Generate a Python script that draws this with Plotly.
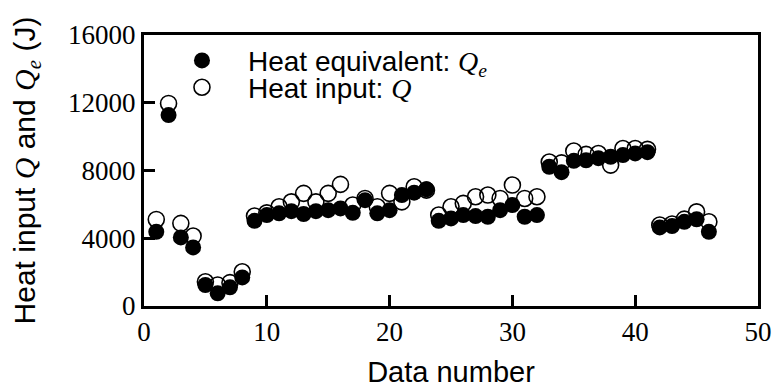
import plotly.graph_objects as go

# Data number (1..46)
data_number = list(range(1, 47))

# Heat equivalent Q_e (J)
heat_equivalent = [
    4380, 11270, 4050, 3460, 1240, 750, 1100, 1690, 5030, 5370,
    5470, 5600, 5430, 5600, 5660, 5760, 5500, 6250, 5470, 5660,
    6550, 6690, 6890, 5030, 5170, 5370, 5310, 5270, 5660, 5960,
    5270, 5370, 8220, 7900, 8570, 8600, 8730, 8810, 8910, 9010,
    9080, 4640, 4720, 4970, 5120, 4380,
]

# Heat input Q (J)
heat_input = [
    5110, 11960, 4880, 4130, 1430, 1240, 1380, 2020, 5310, 5500,
    5860, 6150, 6650, 6150, 6650, 7180, 5960, 6350, 5860, 6650,
    6150, 7040, 6840, 5370, 5860, 6060, 6450, 6550, 6350, 7140,
    6350, 6450, 8500, 8450, 9150, 8950, 9000, 8320, 9300, 9300,
    9250, 4780, 4840, 5130, 5560, 4970,
]

x_ticks = [0, 10, 20, 30, 40, 50]
y_ticks = [0, 4000, 8000, 12000, 16000]

SERIF = "Liberation Serif"
SANS = "Liberation Sans"

def math(s):
    return f"<span style='font-family:{SERIF}'>{s}</span>"

fig = go.Figure()
fig.add_trace(go.Scatter(
    x=data_number, y=heat_input, mode="markers",
    name="Heat input: " + math("<i>Q</i>"),
    legend="legend2",
    marker=dict(symbol="circle-open", size=16, color="black",
                line=dict(width=1.6, color="black")),
))
fig.add_trace(go.Scatter(
    x=data_number, y=heat_equivalent, mode="markers",
    name="Heat equivalent: " + math("<i>Q</i><sub><i>e</i></sub>"),
    legend="legend",
    marker=dict(symbol="circle", size=16, color="black",
                line=dict(width=0)),
))

axis_common = dict(
    showgrid=False, zeroline=False, showline=True, linecolor="black",
    linewidth=3, mirror=True, ticks="inside", ticklen=11, tickwidth=3,
    tickcolor="black", tickfont=dict(family=SERIF, size=27, color="black"),
    automargin=False,
)

legend_common = dict(
    x=0.0195, xanchor="left", yanchor="middle",
    font=dict(family=SANS, size=28, color="black"),
    bgcolor="rgba(0,0,0,0)", itemwidth=82,
)

fig.update_layout(
    width=772, height=388,
    margin=dict(l=144, r=14, t=35, b=82),
    plot_bgcolor="white", paper_bgcolor="white",
    showlegend=True,
    legend=dict(y=0.905, **legend_common),
    legend2=dict(y=0.806, **legend_common),
    xaxis=dict(
        range=[0, 50], tickvals=x_ticks, ticktext=[str(v) for v in x_ticks],
        title=dict(text="Data number", font=dict(family=SANS, size=29, color="black"),
                   standoff=16),
        **axis_common,
    ),
    yaxis=dict(
        range=[0, 16000], tickvals=y_ticks, ticktext=[str(v) for v in y_ticks],
        title=dict(text="Heat input " + math("<i>Q</i>") + " and " +
                   math("<i>Q</i><sub><i>e</i></sub>") + " (J)",
                   font=dict(family=SANS, size=30, color="black"), standoff=24),
        **axis_common,
    ),
)

fig.write_html("out.html")
